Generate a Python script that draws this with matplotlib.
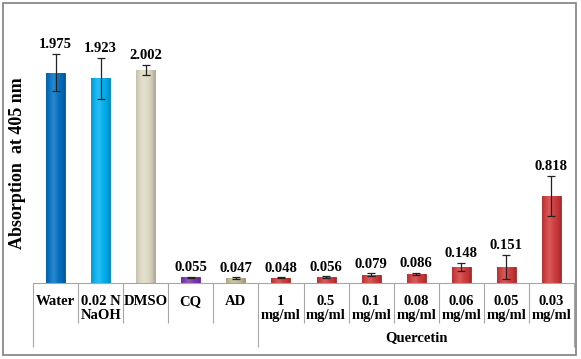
import matplotlib
matplotlib.use("Agg")
import matplotlib.pyplot as plt
import matplotlib.transforms as mtransforms
from matplotlib.patches import Rectangle
import matplotlib.colors as mcolors
import numpy as np

labels = ["Water", "0.02 N\nNaOH", "DMSO", "CQ", "AD", "1\nmg/ml", "0.5\nmg/ml",
          "0.1\nmg/ml", "0.08\nmg/ml", "0.06\nmg/ml", "0.05\nmg/ml", "0.03\nmg/ml"]
values = [1.975, 1.923, 2.002, 0.055, 0.047, 0.048, 0.056, 0.079, 0.086, 0.148, 0.151, 0.818]
errors = [0.175, 0.195, 0.05, 0.006, 0.006, 0.005, 0.006, 0.012, 0.012, 0.038, 0.115, 0.19]
colors = ["#0070C0", "#00B0F0", "#DDD9C3", "#7A35B5", "#C4BD97"] + ["#D03A3A"] * 7
group_label = "Quercetin"
group_start, group_end = 5, 12

plt.rcParams['font.family'] = ['Liberation Serif', 'DejaVu Serif']

W, H = 581, 359
fig = plt.figure(figsize=(W / 100, H / 100), dpi=100)
ax = fig.add_axes([33 / W, 76 / H, 541 / W, 272 / H])
ax.set_xlim(0, len(values))
ax.set_ylim(0, 272 / 106.4)

x = np.arange(len(values)) + 0.5
bars = ax.bar(x, values, width=0.42, color=colors, zorder=2)

# cylindrical shading
for b, c in zip(bars, colors):
    rgb = np.array(mcolors.to_rgb(c))
    t = np.linspace(0, 1, 64)
    shade = 1 - 0.22 * (np.abs(t - 0.45) / 0.55) ** 3
    light = 0.15 * np.exp(-((t - 0.4) / 0.2) ** 2)
    row = np.clip(rgb[None, :] * shade[:, None] + light[:, None] * (1 - rgb[None, :]), 0, 1)
    img = np.repeat(row[None, :, :], 2, axis=0)
    bx, by, bw, bh = b.get_x(), b.get_y(), b.get_width(), b.get_height()
    im = ax.imshow(img, extent=(bx, bx + bw, by, by + bh), aspect='auto',
                   zorder=2.1, interpolation='bilinear')
    im.set_clip_path(b)
    b.set_edgecolor(tuple(rgb * 0.75))
    b.set_linewidth(0.6)

ax.errorbar(x, values, yerr=errors, fmt='none', ecolor='#222222', elinewidth=0.9,
            capsize=3, capthick=0.9, zorder=3)

for xi, v, e in zip(x, values, errors):
    ax.annotate(f"{v:.3f}", (xi, v + e), xytext=(0, 2), textcoords='offset points',
                ha='center', va='bottom', fontsize=10.5, fontweight='bold')

for s in ['top', 'left', 'right']:
    ax.spines[s].set_visible(False)
ax.spines['bottom'].set_color('#A6A6A6')
ax.spines['bottom'].set_linewidth(0.8)
ax.set_yticks([])

# separators as ticks
ax.set_xticks([0, group_start, group_end])
ax.set_xticks([i for i in range(1, len(values)) if i != group_start], minor=True)
ax.tick_params(axis='x', which='major', length=64 * 0.72, color='#A6A6A6', width=0.8,
               labelbottom=False, direction='out')
ax.tick_params(axis='x', which='minor', length=40 * 0.72, color='#A6A6A6', width=0.8,
               labelbottom=False, direction='out')

trans = mtransforms.blended_transform_factory(ax.transData, fig.transFigure)
for xi, lab in zip(x, labels):
    ax.text(xi, 1 - 295 / H, lab, transform=trans, ha='center', va='top',
            fontsize=10.5, fontweight='bold', linespacing=1.1)
ax.text((group_start + group_end) / 2, 1 - 338 / H, group_label, transform=trans,
        ha='center', va='center', fontsize=10.5, fontweight='bold')

fig.text(18 / W, 1 - 163 / H, "Absorption  at 405 nm", rotation=90, ha='center',
         va='center', fontsize=13, fontweight='bold')

fig.patches.append(Rectangle((3 / W, 1 - 355 / H), 573 / W, 352 / H, transform=fig.transFigure,
                             fill=False, edgecolor='#808080', linewidth=1.2))

fig.savefig("out.png", dpi=100)
